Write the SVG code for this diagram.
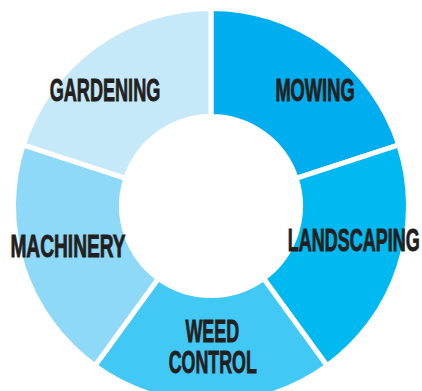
<svg xmlns="http://www.w3.org/2000/svg" width="422" height="391" viewBox="0 0 422 391">
<style>
.seg{stroke:#ffffff;stroke-width:5;stroke-linejoin:miter}
.lbl{font-family:"Liberation Sans",Arial,sans-serif;font-weight:bold;font-size:32px;fill:#231f20;stroke:#231f20;stroke-width:0.9;stroke-linejoin:miter}
</style>
<rect width="422" height="391" fill="#ffffff"/>
<g id="connectors"></g>
<g id="mowing">
<path class="seg" fill="#00adee" d="M211,8.5 A197.5,197.5 0 0 1 398.834,144.969 L296.120,178.343 A89.5,89.5 0 0 0 211,116.5 Z"/>
<text class="lbl" x="275.4" y="101.3" textLength="79.2" lengthAdjust="spacingAndGlyphs">MOWING</text>
</g>
<g id="landscaping">
<path class="seg" fill="#00b9f1" d="M398.834,144.969 A197.5,197.5 0 0 1 327.088,365.781 L263.607,278.407 A89.5,89.5 0 0 0 296.120,178.343 Z"/>
</g>
<g id="weed-control">
<path class="seg" fill="#41c8f4" d="M327.088,365.781 A197.5,197.5 0 0 1 94.912,365.781 L158.393,278.407 A89.5,89.5 0 0 0 263.607,278.407 Z"/>
<text class="lbl" x="185.4" y="342.3" textLength="53.7" lengthAdjust="spacingAndGlyphs">WEED</text>
<text class="lbl" x="168.7" y="372.9" textLength="88.2" lengthAdjust="spacingAndGlyphs">CONTROL</text>
</g>
<g id="machinery">
<path class="seg" fill="#8ed8f8" d="M94.912,365.781 A197.5,197.5 0 0 1 23.166,144.969 L125.880,178.343 A89.5,89.5 0 0 0 158.393,278.407 Z"/>
<text class="lbl" x="10.4" y="256.9" textLength="115.2" lengthAdjust="spacingAndGlyphs">MACHINERY</text>
</g>
<g id="gardening">
<path class="seg" fill="#c6e9f9" d="M23.166,144.969 A197.5,197.5 0 0 1 211,8.5 L211,116.5 A89.5,89.5 0 0 0 125.880,178.343 Z"/>
<text class="lbl" x="49.7" y="101.3" textLength="110.6" lengthAdjust="spacingAndGlyphs">GARDENING</text>
</g>
<g id="landscaping-label">
<text class="lbl" x="287.7" y="251.3" textLength="132" lengthAdjust="spacingAndGlyphs">LANDSCAPING</text>
</g>
</svg>
